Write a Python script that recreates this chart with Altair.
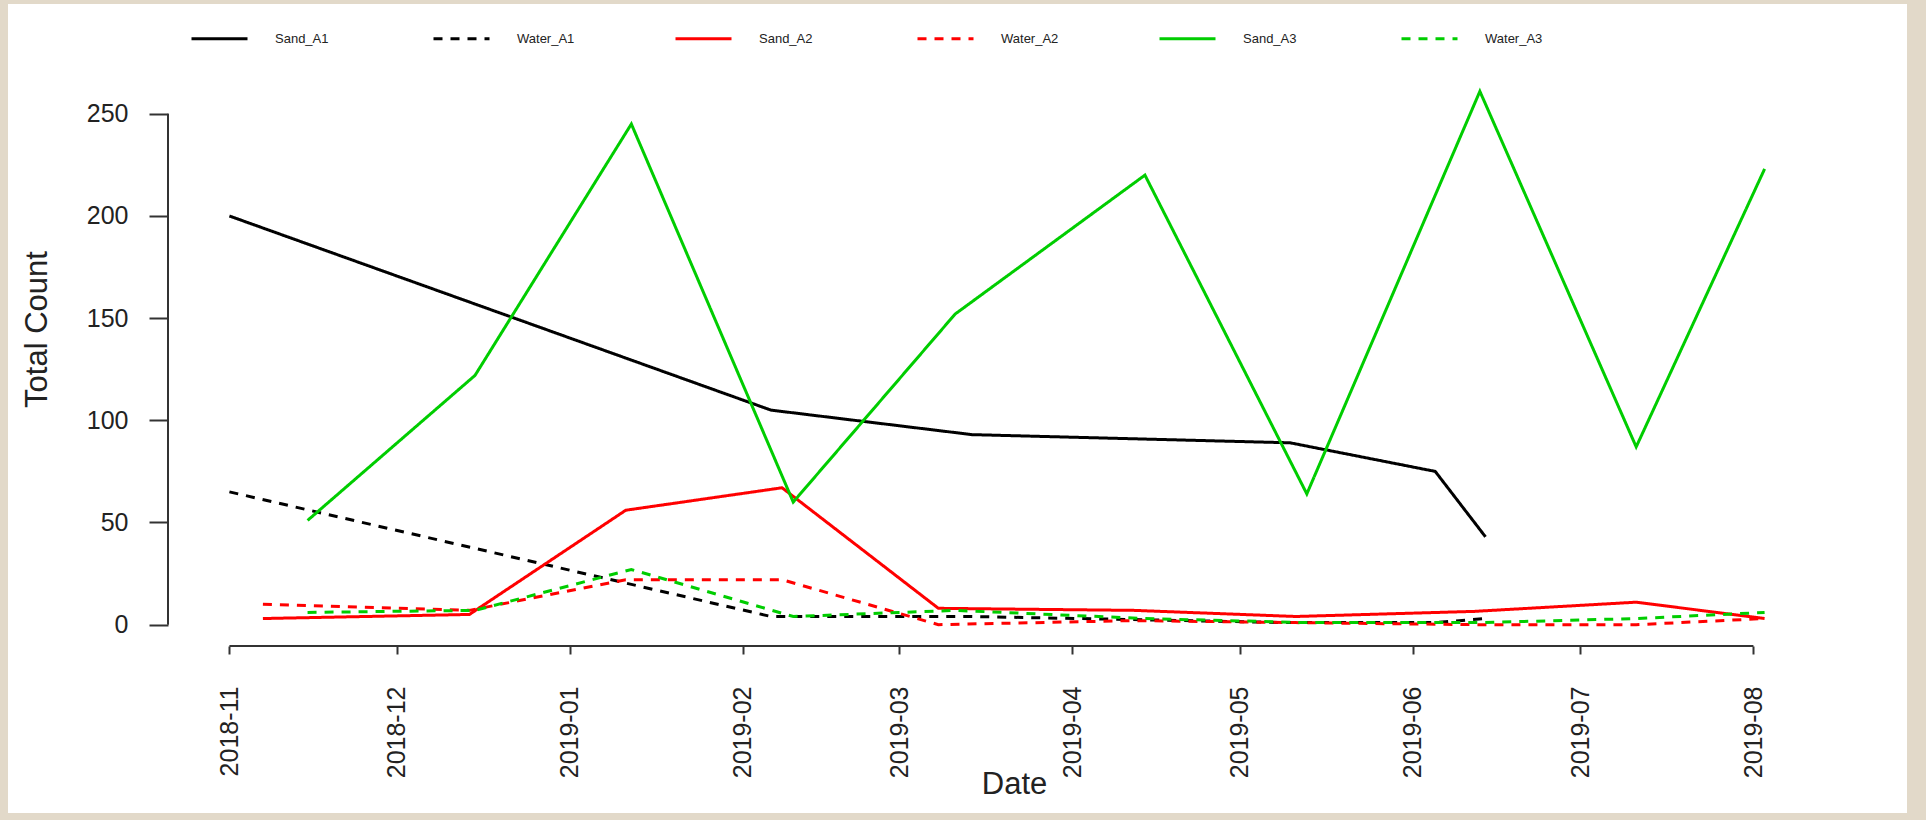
import altair as alt
import pandas as pd

# ---- data -------------------------------------------------------------
series_order = ["Sand_A1", "Water_A1", "Sand_A2", "Water_A2", "Sand_A3", "Water_A3"]
series_colors = ["#000000", "#000000", "#ff0000", "#ff0000", "#00cd00", "#00cd00"]
series_dash = [[1, 0], [9, 8], [1, 0], [9, 8], [1, 0], [9, 8]]
series_width = [3, 3, 3, 3, 2.2, 3]

a1_dates = ["2018-11-01", "2019-02-06", "2019-03-14", "2019-05-10", "2019-06-05", "2019-06-14"]
sand_a1 = [200, 105, 93, 89, 75, 43]
water_a1 = [65, 4, 4, 1, 1, 3]

a2_dates = ["2018-11-07", "2018-12-14", "2019-01-11", "2019-02-08", "2019-03-08",
            "2019-04-12", "2019-05-11", "2019-06-12", "2019-07-11", "2019-08-03"]
sand_a2 = [3, 5, 56, 67, 8, 7, 4, 6.5, 11, 3]
water_a2 = [10, 7, 22, 22, 0, 2, 1, 0, 0, 3]

a3_dates = ["2018-11-15", "2018-12-15", "2019-01-12", "2019-02-10", "2019-03-11",
            "2019-04-14", "2019-05-13", "2019-06-13", "2019-07-11", "2019-08-03"]
sand_a3 = [51, 122, 245, 60, 152, 220, 64, 261, 87, 223]
water_a3 = [6, 7, 27, 4, 7, 3, 1, 1, 3, 6]

y_ticks = [0, 50, 100, 150, 200, 250]
month_ticks = [(2018, 11), (2018, 12), (2019, 1), (2019, 2), (2019, 3),
               (2019, 4), (2019, 5), (2019, 6), (2019, 7), (2019, 8)]

rows = []
for name, dates, vals in [
    ("Sand_A1", a1_dates, sand_a1), ("Water_A1", a1_dates, water_a1),
    ("Sand_A2", a2_dates, sand_a2), ("Water_A2", a2_dates, water_a2),
    ("Sand_A3", a3_dates, sand_a3), ("Water_A3", a3_dates, water_a3),
]:
    for d, v in zip(dates, vals):
        rows.append({"series": name, "date": d, "count": v})
df = pd.DataFrame(rows)

# ---- scales (R style: data range padded by 4%) --------------------------
Y_LOW, Y_HIGH = -10.44, 271.44
x_scale = alt.Scale(type="utc",
                    domain=[alt.DateTime(year=2018, month=10, date=21, utc=True),
                            alt.DateTime(year=2019, month=8, date=14, utc=True)])
y_scale = alt.Scale(domain=[Y_LOW, Y_HIGH], nice=False, zero=False)

FONT = "Liberation Sans"
W, H = 1658, 576

x_axis = alt.Axis(
    values=[alt.DateTime(year=y, month=m, date=1, utc=True) for y, m in month_ticks],
    labelExpr="utcFormat(datum.value, '%Y-%m')", labelAngle=-90, labelAlign="right",
    labelBaseline="middle", labelPadding=32, labelFontSize=25, labelFont=FONT,
    labelColor="#222222", tickSize=8, tickWidth=2, tickColor="#333333",
    domain=False, grid=False, title="Date", titleFont=FONT, titleFontSize=31,
    titleFontWeight="normal", titleColor="#222222", titleX=846, titleY=147,
    titleAlign="center", titleBaseline="alphabetic", zindex=2,
)
y_axis = alt.Axis(
    values=y_ticks, labelFontSize=25, labelFont=FONT, labelColor="#222222",
    labelPadding=21, tickSize=19, tickWidth=2, tickColor="#333333",
    domain=False, grid=False, title="Total Count", titleFont=FONT,
    titleFontSize=31, titleFontWeight="normal", titleColor="#222222",
    titleX=-131, titleY=259, titleAngle=-90, titleAlign="center",
    titleBaseline="middle", zindex=2,
)

legend = alt.Legend(
    title=None, orient="none", legendX=22, legendY=-61, direction="horizontal",
    columns=6, gridAlign="all", symbolType="stroke", symbolSize=3136,
    symbolStrokeWidth=2, labelOffset=26, columnPadding=94, labelFontSize=13,
    labelFont=FONT, labelColor="#222222", padding=0, zindex=2,
)

# ---- white panel -------------------------------------------------------
panel = alt.Chart(pd.DataFrame({"k": [0]})).mark_rect(fill="white").encode(
    x=alt.value(-160), x2=alt.value(1739), y=alt.value(-66), y2=alt.value(743)
)

# ---- axis lines spanning only the tick range ----------------------------
x_line_df = pd.DataFrame({"start": ["2018-11-01"], "end": ["2019-08-01"], "level": [Y_LOW]})
x_line = alt.Chart(x_line_df).mark_rule(color="#333333", strokeWidth=2).encode(
    x=alt.X("start:T", scale=x_scale, axis=x_axis, title="Date"),
    x2="end:T",
    y=alt.Y("level:Q", scale=y_scale, axis=y_axis, title="Total Count"),
)
y_line_df = pd.DataFrame({"at": ["2018-10-21"], "lo": [0], "hi": [250]})
y_line = alt.Chart(y_line_df).mark_rule(color="#333333", strokeWidth=2).encode(
    x=alt.X("at:T", scale=x_scale, axis=x_axis, title="Date"),
    y=alt.Y("lo:Q", scale=y_scale, axis=y_axis, title="Total Count"),
    y2="hi:Q",
)

# ---- series lines ------------------------------------------------------
lines = alt.Chart(df).mark_line(strokeCap="butt").encode(
    x=alt.X("date:T", scale=x_scale, axis=x_axis, title="Date"),
    y=alt.Y("count:Q", scale=y_scale, axis=y_axis, title="Total Count"),
    color=alt.Color("series:N", sort=series_order,
                    scale=alt.Scale(domain=series_order, range=series_colors),
                    legend=legend),
    strokeDash=alt.StrokeDash("series:N", sort=series_order,
                              scale=alt.Scale(domain=series_order, range=series_dash),
                              legend=legend),
    strokeWidth=alt.StrokeWidth("series:N",
                                scale=alt.Scale(domain=series_order, range=series_width),
                                legend=None),
    detail="series:N",
)

chart = alt.layer(panel, x_line, y_line, lines).properties(
    width=W, height=H,
    padding={"left": 168, "top": 70, "right": 100, "bottom": 174},
    autosize=alt.AutoSizeParams(type="none"),
    background="#e2d9c9",
).configure_view(stroke=None)

chart.save("out.html", embed_options={"renderer": "svg", "actions": False})
